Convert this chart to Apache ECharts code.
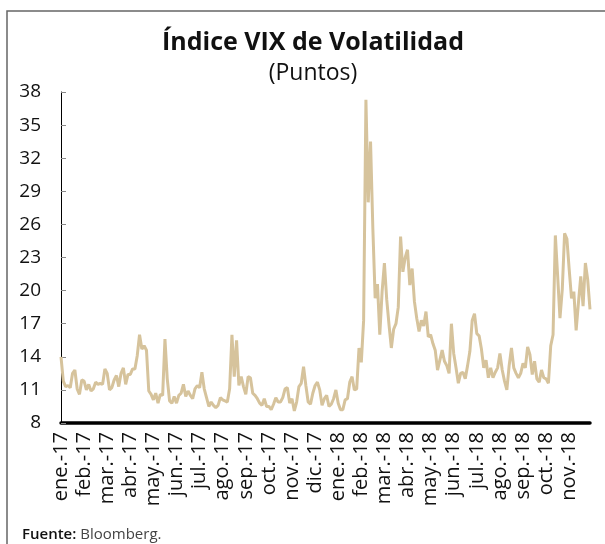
<!DOCTYPE html>
<html>
<head>
<meta charset="utf-8">
<title>Índice VIX de Volatilidad</title>
<script src="https://cdn.jsdelivr.net/npm/echarts@6/dist/echarts.min.js"></script>
<style>
  html, body { margin: 0; padding: 0; background: #fff; }
  #vix { width: 605px; height: 544px; }
</style>
</head>
<body>
<div id="vix"></div>
<script>
// meses del eje (10 lecturas por mes)
var months = ["ene.-17", "feb.-17", "mar.-17", "abr.-17", "may.-17", "jun.-17", "jul.-17", "ago.-17", "sep.-17", "oct.-17", "nov.-17", "dic.-17",
  "ene.-18", "feb.-18", "mar.-18", "abr.-18", "may.-18", "jun.-18", "jul.-18", "ago.-18", "sep.-18", "oct.-18", "nov.-18"];

// VIX, lecturas aproximadas del grafico
var vix17 = [
  [14.0, 11.8, 11.3, 11.4, 11.2, 12.5, 12.8, 11.1, 10.6, 11.9], // ene
  [11.8, 11.0, 11.5, 10.9, 11.1, 11.7, 11.5, 11.6, 11.5, 12.9], // feb
  [12.5, 11.0, 11.2, 11.9, 12.3, 11.3, 12.5, 13.0, 11.5, 12.4], // mar
  [12.4, 12.9, 12.9, 14.1, 16.0, 14.7, 15.0, 14.6, 10.9, 10.6], // abr
  [10.1, 10.7, 9.8, 10.6, 10.5, 15.6, 12.0, 10.0, 9.8, 10.4],   // may
  [9.8, 10.5, 10.7, 11.5, 10.4, 10.9, 10.5, 10.2, 11.1, 11.4],  // jun
  [11.2, 12.6, 11.1, 10.3, 9.5, 9.9, 9.6, 9.4, 9.6, 10.3],      // jul
  [10.1, 10.0, 9.9, 11.1, 16.0, 12.2, 15.5, 11.4, 12.2, 11.3],  // ago
  [10.6, 12.2, 12.1, 10.7, 10.5, 10.2, 9.8, 9.6, 10.2, 9.5],    // sep
  [9.5, 9.2, 9.7, 10.3, 9.9, 9.9, 10.3, 11.1, 11.2, 9.8],       // oct
  [10.2, 9.1, 9.9, 11.3, 11.6, 13.1, 11.4, 9.9, 9.7, 10.7],     // nov
  [11.4, 11.7, 11.0, 9.6, 10.2, 10.5, 9.5, 9.7, 10.2, 11.0]     // dic
];
var vix18 = [
  [9.8, 9.2, 9.2, 10.1, 10.2, 11.7, 12.2, 11.0, 11.1, 14.8],    // ene
  [13.5, 17.3, 37.3, 28.0, 33.5, 25.6, 19.3, 20.6, 16.0, 19.9], // feb
  [22.5, 19.2, 16.9, 14.8, 16.5, 17.0, 18.5, 24.9, 21.7, 23.0], // mar
  [23.7, 20.5, 22.0, 19.0, 17.5, 16.3, 17.3, 16.8, 18.1, 15.8], // abr
  [16.0, 15.2, 14.6, 12.8, 13.7, 14.6, 13.6, 13.2, 12.5, 17.0], // may
  [14.3, 13.0, 11.6, 12.5, 12.6, 12.0, 13.2, 14.5, 17.3, 17.9], // jun
  [16.1, 15.9, 14.7, 13.0, 13.7, 12.1, 13.0, 12.1, 12.6, 13.0], // jul
  [14.3, 12.8, 11.8, 11.0, 13.2, 14.8, 13.0, 12.5, 12.1, 12.5], // ago
  [13.4, 13.0, 14.9, 14.2, 12.4, 13.6, 12.0, 11.7, 12.8, 12.1], // sep
  [12.0, 11.6, 15.0, 16.0, 25.0, 21.3, 17.5, 20.1, 25.2, 24.7], // oct
  [21.9, 19.3, 19.9, 16.4, 18.9, 21.3, 18.6, 22.5, 21.0, 18.3]  // nov
];

var yTicks = { min: 8, max: 38, interval: 3 };

var chart = echarts.init(document.getElementById("vix"));

var categories = [];
var values = [];
vix17.concat(vix18).forEach(function (month, m) {
  month.forEach(function (v, k) {
    categories.push(months[m] + "|" + k);
    values.push(v);
  });
});

var font = "'Open Sans', 'Noto Sans', sans-serif";

var option = {
  animation: false,
  backgroundColor: "#fff",
  title: [
    {
      text: "Índice VIX de Volatilidad",
      left: 308,
      textAlign: "center",
      top: 25,
      textStyle: { fontFamily: font, fontSize: 25, fontWeight: "bold", color: "#111" }
    },
    {
      text: "(Puntos)",
      left: 308,
      textAlign: "center",
      top: 57,
      textStyle: { fontFamily: font, fontSize: 23, fontWeight: "normal", color: "#111" }
    }
  ],
  graphic: [
    {
      type: "rect",
      shape: { x: 7, y: 11, width: 620, height: 600 },
      style: { fill: "none", stroke: "#666", lineWidth: 1.5 },
      silent: true
    },
    {
      type: "text",
      left: 22,
      top: 527,
      style: {
        text: "{b|Fuente:} Bloomberg.",
        rich: {
          b: { fontFamily: font, fontSize: 15, fontWeight: 600, fill: "#111" }
        },
        fontFamily: font,
        fontSize: 15,
        fill: "#444"
      }
    }
  ],
  grid: {
    left: 61,
    right: 15,
    top: 92,
    bottom: 121
  },
  xAxis: {
    type: "category",
    data: categories,
    boundaryGap: false,
    axisLine: { lineStyle: { color: "#000", width: 3.5 } },
    axisTick: { show: false },
    axisLabel: {
      interval: 9,
      rotate: 90,
      margin: 9,
      fontFamily: font,
      fontSize: 20,
      color: "#111",
      formatter: function (val) {
        return val.split("|")[0];
      }
    },
    splitLine: { show: false }
  },
  yAxis: {
    type: "value",
    min: yTicks.min,
    max: yTicks.max,
    interval: yTicks.interval,
    axisLine: { show: true, lineStyle: { color: "#000", width: 1 } },
    axisTick: { show: true, inside: true, length: 5, lineStyle: { color: "#888" } },
    axisLabel: { margin: 20, fontFamily: font, fontSize: 19, color: "#111" },
    splitLine: { show: false }
  },
  series: [
    {
      name: "VIX",
      type: "line",
      data: values,
      symbol: "none",
      lineStyle: { color: "#D6C39C", width: 3 },
      z: 1
    }
  ]
};

chart.setOption(option);
window.addEventListener("resize", function () {
  chart.resize();
});
</script>
</body>
</html>
